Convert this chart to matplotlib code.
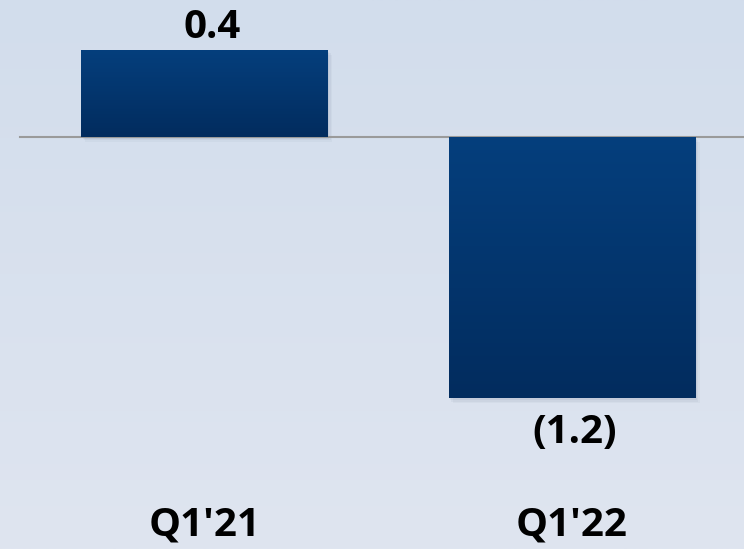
import numpy as np
import matplotlib.pyplot as plt
from matplotlib.colors import LinearSegmentedColormap

categories = ["Q1'21", "Q1'22"]
values = [0.4, -1.2]
value_labels = ["0.4", "(1.2)"]

plt.rcParams['font.family'] = ['Open Sans', 'DejaVu Sans']

fig = plt.figure(figsize=(7.44, 5.49), dpi=100)
ax = fig.add_axes([0, 0, 1, 1])
ax.set_xlim(-0.5565, 1.468)
ax.set_ylim(-1.8925, 0.629)
ax.axis('off')

# background gradient, darker at the top
bg = LinearSegmentedColormap.from_list('bg', ['#d2ddec', '#dfe5f0'])
ax.imshow(np.linspace(0, 1, 256).reshape(-1, 1), cmap=bg, aspect='auto',
          extent=[0, 1, 0, 1], origin='upper', transform=ax.transAxes, zorder=0)

bar_cmap = LinearSegmentedColormap.from_list('bar', ['#053f7d', '#022c5e'])
xpos = np.arange(len(categories))
width = 0.672
bars = ax.bar(xpos, values, width=width, color='none', zorder=3)

for b, v in zip(bars, values):
    x0, y0 = b.get_x(), min(0, v)
    x1, y1 = x0 + b.get_width(), max(0, v)
    # soft shadow
    for k, a in enumerate([0.06, 0.05, 0.04]):
        d = 0.004 * (k + 1)
        ax.add_patch(plt.Rectangle((x0 + d, y0 - 2 * d), x1 - x0, y1 - y0,
                                   color='#3a4a66', alpha=a, lw=0, zorder=2))
    im = ax.imshow(np.linspace(0, 1, 256).reshape(-1, 1), cmap=bar_cmap,
                   aspect='auto', extent=[x0, x1, y0, y1], origin='upper', zorder=3)
    im.set_clip_path(b)

ax.axhline(0, xmin=20 / 744, xmax=1, color='#9a9a9a', lw=1.5, zorder=2.5)

for x, v, lab in zip(xpos, values, value_labels):
    if v >= 0:
        ax.annotate(lab, (x + 0.02, v), xytext=(0, 16), textcoords='offset points',
                    ha='center', va='center', fontsize=29, fontweight='bold', color='black')
    else:
        ax.annotate(lab, (x + 0.008, v), xytext=(0, -25), textcoords='offset points',
                    ha='center', va='center', fontsize=29, fontweight='bold', color='black')

for x, c in zip(xpos, categories):
    ax.text(x, 24 / 549, c, transform=ax.get_xaxis_transform(), ha='center', va='center',
            fontsize=29, fontweight='bold', color='black')

fig.savefig('out.png', dpi=100)
